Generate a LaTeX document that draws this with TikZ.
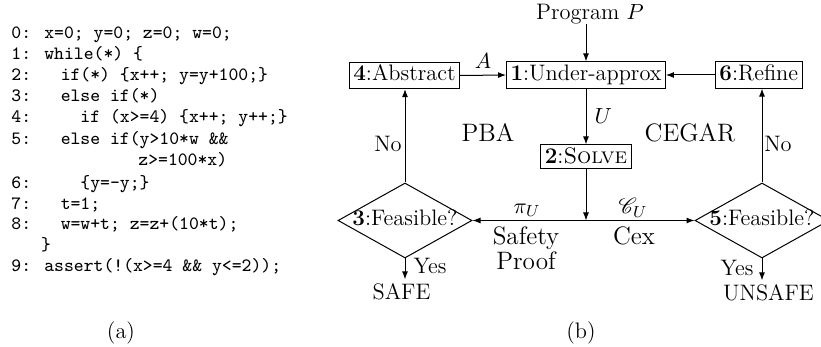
\documentclass[tikz,border=0pt]{standalone}
\usepackage{amsmath}
\usepackage{mathrsfs}
\usetikzlibrary{arrows.meta,shapes.geometric}
\newcommand\dfont{\fontsize{11.2}{13}\selectfont}
\newcommand\bigfont{\fontsize{12.6}{11}\selectfont}
\newcommand\cfont{\fontsize{9.4}{10}\selectfont\ttfamily}
\tikzset{
  box/.style={draw, line width=0.5pt, inner xsep=2pt, inner ysep=1.6pt,
    text height=7.6pt, text depth=2.3pt, font=\dfont},
  dia/.style={draw, shape=diamond, inner sep=0pt, minimum width=67pt,
    minimum height=37.5pt, line width=0.5pt, text height=7.6pt, text depth=2.3pt, font=\dfont},
  conn/.style={line width=0.5pt, -{Latex[length=4pt,width=3pt]}},
  lbl/.style={inner sep=0pt, font=\dfont},
  biglbl/.style={inner sep=0pt, font=\bigfont, align=center},
  codeline/.style={anchor=base west, inner sep=0pt, font=\cfont},
}
\begin{document}
\begin{tikzpicture}[x=0.5pt, y=-0.5pt]
\useasboundingbox (0,0) rectangle (821,347);
% ---- code listing (a)
\node[codeline] (c0) at (11,38.8) {0: x=0; y=0; z=0; w=0;};
\node[codeline] (c1) at (11,59.8) {1: while(*) \{};
\node[codeline] (c2) at (11,80.8) {2:\ \ \ if(*) \{x++; y=y+100;\}};
\node[codeline] (c3) at (11,101.8) {3:\ \ \ else if(*)};
\node[codeline] (c4) at (11,122.8) {4:\ \ \ \ \ if (x>=4) \{x++; y++;\}};
\node[codeline] (c5) at (11,144.8) {5:\ \ \ else if(y>10*w \&\&};
\node[codeline] (c5b) at (138,165.3) {z>=100*x)};
\node[codeline] (c6) at (11,188.8) {6:\ \ \ \ \ \{y=-y;\}};
\node[codeline] (c7) at (11,209.3) {7:\ \ \ t=1;};
\node[codeline] (c8) at (11,229.8) {8:\ \ \ w=w+t; z=z+(10*t);};
\node[codeline] (c8b) at (40.6,250.8) {\}};
\node[codeline] (c9) at (11,271.8) {9: assert(!(x>=4 \&\& y<=2));};
\node[lbl] (capa) at (121,333) {(a)};
% ---- diagram (b)
\node[lbl] (prog) at (590,14) {Program $P$};
\node[box] (n1) at (586,75) {\textbf{1}:Under-approx};
\node[box] (n4) at (404.5,75.5) {\textbf{4}:Abstract};
\node[box] (n6) at (758.8,75) {\textbf{6}:Refine};
\node[box, text depth=0.8pt] (n2) at (586,156.5) {\textbf{2}:\textsc{Solve}};
\node[dia] (d3) at (405,220.5) {\makebox[0pt]{\textbf{3}:Feasible?}};
\node[dia] (d5) at (762,220.5) {\makebox[0pt]{\textbf{5}:Feasible?}};
\node[biglbl] (pba) at (488,133) {PBA};
\node[biglbl] (cegar) at (690,133) {CEGAR};
\node[lbl, inner sep=2pt] (safe) at (401.5,292) {SAFE};
\node[lbl, inner sep=2pt] (unsafe) at (768.5,293) {UNSAFE};
% connectors
\draw[conn] (prog.south -| n1.north) -- (n1.north);
\draw[conn] (n4.east) -- (n1.west) node[lbl, midway, above=3pt] (lA) {$A$};
\draw[conn] (n6.west) -- (n1.east);
\draw[conn] (n1.south) -- (n2.north) node[lbl, midway, right=4pt] (lU) {$U$};
\coordinate (jn) at (n2.south |- d3.east);
\draw[conn] (n2.south) -- (jn);
\draw[conn] (jn) -- (d3.east);
\draw[conn] (jn) -- (d5.west);
\draw[conn] (d3.north) -- (d3.north |- n4.south);
\draw[conn] (d5.north) -- (d5.north |- n6.south);
\draw[conn] (d3.south) -- (d3.south |- safe.north);
\draw[conn] (d5.south) -- (d5.south |- unsafe.north);
% labels
\node[lbl] (lpi) at (527,210) {$\pi_U$};
\node[biglbl] (lsp) at (526,248.5) {Safety\\Proof};
\node[lbl] (lcu) at (633,208) {$\mathscr{C}_U$};
\node[biglbl] (lcex) at (634,236) {Cex};
\node[lbl] (lno1) at (388,144) {No};
\node[lbl] (lno2) at (778,144) {No};
\node[lbl] (lyes1) at (430,266) {Yes};
\node[lbl] (lyes2) at (737,268) {Yes};
\node[lbl] (capb) at (581,333) {(b)};
\end{tikzpicture}
\end{document}
